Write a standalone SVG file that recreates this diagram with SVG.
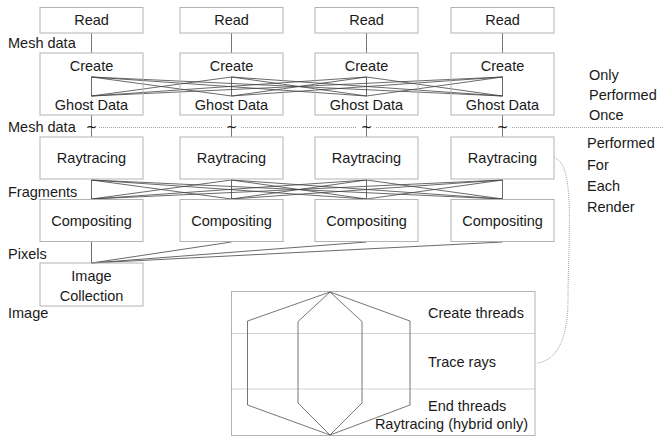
<svg xmlns="http://www.w3.org/2000/svg" width="663" height="436" viewBox="0 0 663 436">
<style>
.box{fill:none;stroke:#b3b3b3;stroke-width:1}
.t{font-family:"Liberation Sans",Arial,sans-serif;font-size:14.5px;fill:#1a1a1a}
.c{text-anchor:middle}
.tl{font-family:"DejaVu Sans",sans-serif;font-size:14px;fill:#1a1a1a;text-anchor:middle}
.ln{fill:none;stroke:#444;stroke-width:0.8}
.vl{fill:none;stroke:#777;stroke-width:1}
.dot{fill:none;stroke:#888;stroke-width:0.8;stroke-dasharray:1 1}
</style>
<rect width="663" height="436" fill="#fff"/>
<g id="connectors">
<path class="vl" d="M91.5 33V53M231.5 33V53M366.5 33V53M502.5 33V53"/>
<path class="vl" d="M91.5 115V137M231.5 115V137M366.5 115V137M502.5 115V137"/>
<path class="ln" d="M91.5 77V96M231.5 77V96M366.5 77V96M502.5 77V96
M91.5 77L231.5 96M91.5 77L366.5 96M91.5 77L502.5 96
M231.5 77L91.5 96M231.5 77L366.5 96M231.5 77L502.5 96
M366.5 77L91.5 96M366.5 77L231.5 96M366.5 77L502.5 96
M502.5 77L91.5 96M502.5 77L231.5 96M502.5 77L366.5 96"/>
<path class="ln" d="M91.5 180V199M231.5 180V199M366.5 180V199M502.5 180V199
M91.5 180L231.5 199M91.5 180L366.5 199M91.5 180L502.5 199
M231.5 180L91.5 199M231.5 180L366.5 199M231.5 180L502.5 199
M366.5 180L91.5 199M366.5 180L231.5 199M366.5 180L502.5 199
M502.5 180L91.5 199M502.5 180L231.5 199M502.5 180L366.5 199"/>
<path class="ln" d="M91.5 242V263M231.5 242L91.5 263M366.5 242L91.5 263M502.5 242L91.5 263"/>
<path class="dot" d="M99 127.5H222M241 127.5H357M376 127.5H493M512 127.5H663"/>
<path class="dot" d="M554 158C576 162 568 240 568 300C568 340 556 361 537 363"/>
</g>
<g id="tildes">
<text class="tl" x="91.5" y="132">~</text>
<text class="tl" x="231.5" y="132">~</text>
<text class="tl" x="366.5" y="132">~</text>
<text class="tl" x="502.5" y="132">~</text>
</g>
<g id="read1"><rect class="box" x="40" y="7.5" width="103" height="25.5"/><text class="t c" x="91.5" y="25">Read</text></g>
<g id="read2"><rect class="box" x="180" y="7.5" width="103" height="25.5"/><text class="t c" x="231.5" y="25">Read</text></g>
<g id="read3"><rect class="box" x="315" y="7.5" width="103" height="25.5"/><text class="t c" x="366.5" y="25">Read</text></g>
<g id="read4"><rect class="box" x="451" y="7.5" width="103" height="25.5"/><text class="t c" x="502.5" y="25">Read</text></g>
<g id="create1"><rect class="box" x="40" y="53" width="103" height="62"/><text class="t c" x="91.5" y="71">Create</text><text class="t c" x="91.5" y="110">Ghost Data</text></g>
<g id="create2"><rect class="box" x="180" y="53" width="103" height="62"/><text class="t c" x="231.5" y="71">Create</text><text class="t c" x="231.5" y="110">Ghost Data</text></g>
<g id="create3"><rect class="box" x="315" y="53" width="103" height="62"/><text class="t c" x="366.5" y="71">Create</text><text class="t c" x="366.5" y="110">Ghost Data</text></g>
<g id="create4"><rect class="box" x="451" y="53" width="103" height="62"/><text class="t c" x="502.5" y="71">Create</text><text class="t c" x="502.5" y="110">Ghost Data</text></g>
<g id="ray1"><rect class="box" x="40" y="137" width="103" height="42"/><text class="t c" x="91.5" y="163">Raytracing</text></g>
<g id="ray2"><rect class="box" x="180" y="137" width="103" height="42"/><text class="t c" x="231.5" y="163">Raytracing</text></g>
<g id="ray3"><rect class="box" x="315" y="137" width="103" height="42"/><text class="t c" x="366.5" y="163">Raytracing</text></g>
<g id="ray4"><rect class="box" x="451" y="137" width="103" height="42"/><text class="t c" x="502.5" y="163">Raytracing</text></g>
<g id="comp1"><rect class="box" x="40" y="199.5" width="103" height="42"/><text class="t c" x="91.5" y="226">Compositing</text></g>
<g id="comp2"><rect class="box" x="180" y="199.5" width="103" height="42"/><text class="t c" x="231.5" y="226">Compositing</text></g>
<g id="comp3"><rect class="box" x="315" y="199.5" width="103" height="42"/><text class="t c" x="366.5" y="226">Compositing</text></g>
<g id="comp4"><rect class="box" x="451" y="199.5" width="103" height="42"/><text class="t c" x="502.5" y="226">Compositing</text></g>
<g id="imagecollection"><rect class="box" x="40" y="263" width="103" height="43"/><text class="t c" x="91.5" y="281">Image</text><text class="t c" x="91.5" y="301">Collection</text></g>
<g id="labels">
<text class="t" x="8" y="48">Mesh data</text>
<text class="t" x="8" y="132">Mesh data</text>
<text class="t" x="8" y="197">Fragments</text>
<text class="t" x="8" y="259">Pixels</text>
<text class="t" x="8" y="318">Image</text>
<text class="t" x="589" y="80">Only</text>
<text class="t" x="589" y="100">Performed</text>
<text class="t" x="589" y="120">Once</text>
<text class="t" x="587" y="148">Performed</text>
<text class="t" x="587" y="170">For</text>
<text class="t" x="587" y="191">Each</text>
<text class="t" x="587" y="212">Render</text>
</g>
<g id="hybrid">
<rect class="box" x="231.5" y="291.5" width="303.5" height="144"/>
<path class="dot" d="M231.5 333.5H535M231.5 389H535"/>
<path fill="none" stroke="#666" stroke-width="0.9" d="M330 292L247.5 321V405L330 435L410 405V321Z"/>
<path fill="none" stroke="#666" stroke-width="0.9" d="M330 292L298 321.5V403L330 435L362 403V321.5Z"/>
<text class="t" x="428" y="318">Create threads</text>
<text class="t" x="428" y="367">Trace rays</text>
<text class="t" x="428" y="411">End threads</text>
<text class="t" x="528" y="429" text-anchor="end">Raytracing (hybrid only)</text>
</g>
</svg>
